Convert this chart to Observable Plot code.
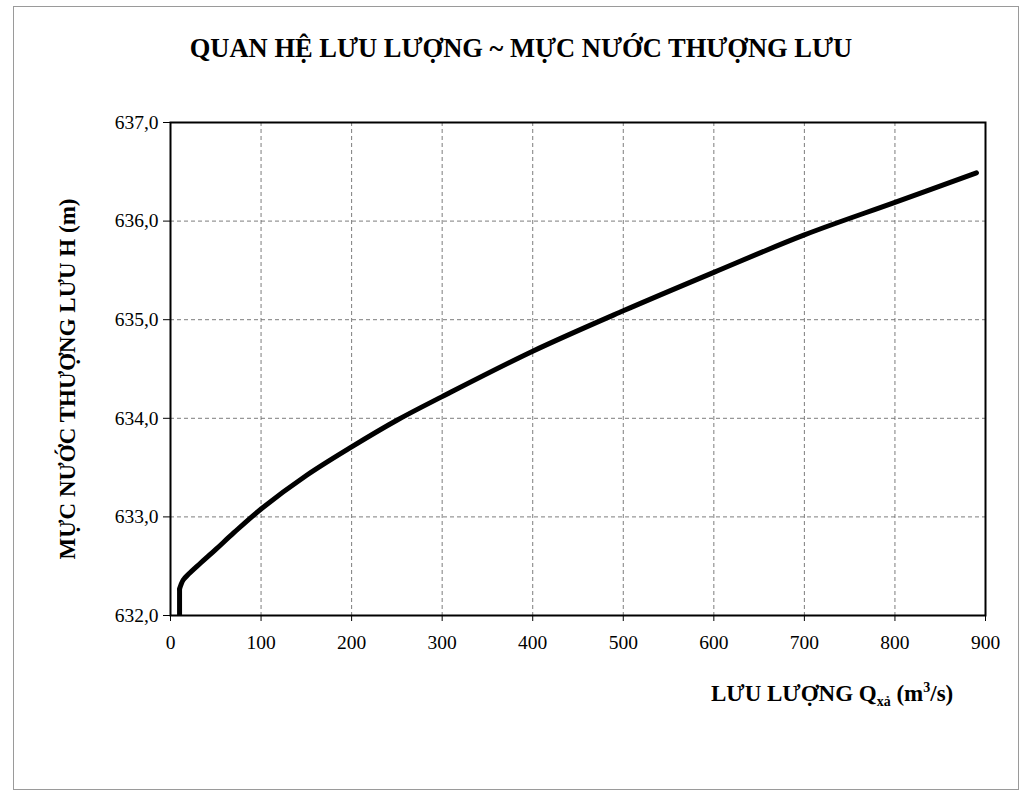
<!DOCTYPE html>
<html>
<head>
<meta charset="utf-8">
<script src="https://cdn.jsdelivr.net/npm/d3@7"></script>
<script src="https://cdn.jsdelivr.net/npm/@observablehq/plot@0.6"></script>
<style>
  html, body { margin: 0; padding: 0; background: white; overflow: hidden; }
  #chart { width: 1025px; height: 797px; }
</style>
</head>
<body>
<div id="chart"></div>
<script>
// Discharge Q (m3/s) and upstream water level H (m)
// vertical start piece
const startQ = [10, 10];
const startH = [632.0, 632.27];
// rating curve
const flowQ  = [10, 14, 20, 33, 50, 70, 100, 150, 200, 250, 300, 400, 500, 600, 700, 800, 890];
const levelH = [632.27, 632.36, 632.42, 632.53, 632.67, 632.84, 633.08, 633.42, 633.71, 633.98, 634.22, 634.68, 635.09, 635.48, 635.86, 636.19, 636.49];
const xTicks = [0, 100, 200, 300, 400, 500, 600, 700, 800, 900];
const yTicks = [632, 633, 634, 635, 636, 637];

const titleText = "QUAN HỆ LƯU LƯỢNG ~ MỰC NƯỚC THƯỢNG LƯU";
const yLabelText = "MỰC NƯỚC THƯỢNG LƯU H (m)";

const startData = startQ.map((q, i) => ({q, h: startH[i]}));
const data = flowQ.map((q, i) => ({q, h: levelH[i]}));
const fmt = d => d.toFixed(1).replace(".", ",");
const SERIF = "Liberation Serif";

const plot = Plot.plot({
  width: 1025,
  height: 797,
  marginLeft: 170,
  marginRight: 40,
  marginTop: 122,
  marginBottom: 182,
  style: {fontFamily: SERIF, fontSize: "19.5px", color: "black", background: "white"},
  x: {domain: [0, 900]},
  y: {domain: [632, 637]},
  marks: [
    Plot.gridX(xTicks, {stroke: "#666", strokeOpacity: 0.85, strokeDasharray: "4,3", strokeWidth: 1}),
    Plot.gridY(yTicks, {stroke: "#666", strokeOpacity: 0.85, strokeDasharray: "4,3", strokeWidth: 1}),
    Plot.axisX({ticks: xTicks, tickSize: 6, tickPadding: 14, label: null, fontSize: 19.5, fontFamily: SERIF}),
    Plot.axisY({ticks: yTicks, tickSize: 7, tickPadding: 5, label: null, tickFormat: fmt, fontSize: 19.5, fontFamily: SERIF}),
    Plot.frame({stroke: "black", strokeWidth: 2}),
    Plot.line(startData, {x: "q", y: "h", stroke: "black", strokeWidth: 5, strokeLinecap: "butt"}),
    Plot.line(data, {x: "q", y: "h", stroke: "black", strokeWidth: 5, curve: "catmull-rom", strokeLinejoin: "round"})
  ]
});

document.getElementById("chart").appendChild(plot);

const svg = d3.select(plot);

// outer page frame
svg.insert("rect", ":first-child")
  .attr("x", 13.5).attr("y", 6.5).attr("width", 1005).attr("height", 783)
  .attr("fill", "none").attr("stroke", "#9a9a9a").attr("stroke-width", 1);

svg.append("text")
  .attr("x", 521).attr("y", 57)
  .attr("text-anchor", "middle")
  .attr("font-family", SERIF)
  .attr("font-weight", "bold")
  .attr("font-size", 26.5)
  .attr("fill", "black")
  .text(titleText);

svg.append("text")
  .attr("transform", "translate(75,379) rotate(-90)")
  .attr("text-anchor", "middle")
  .attr("font-family", SERIF)
  .attr("font-weight", "bold")
  .attr("font-size", 23)
  .attr("fill", "black")
  .text(yLabelText);

const xl = svg.append("text")
  .attr("x", 711).attr("y", 701)
  .attr("text-anchor", "start")
  .attr("font-family", SERIF)
  .attr("font-weight", "bold")
  .attr("font-size", 23)
  .attr("fill", "black");
xl.append("tspan").text("LƯU LƯỢNG Q");
xl.append("tspan").attr("dy", 5).attr("font-size", 14).text("xả");
xl.append("tspan").attr("dy", -5).text(" (m");
xl.append("tspan").attr("dy", -9).attr("font-size", 14).text("3");
xl.append("tspan").attr("dy", 9).text("/s)");
</script>
</body>
</html>
